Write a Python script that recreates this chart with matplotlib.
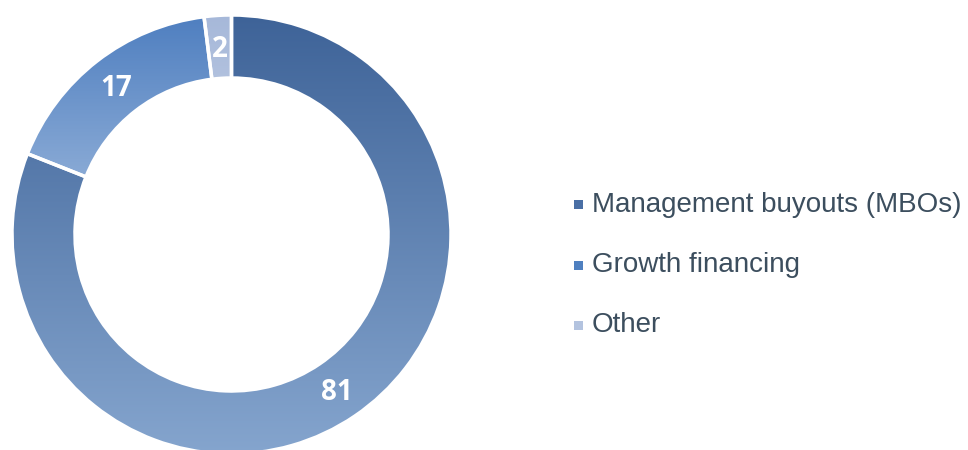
import numpy as np
import matplotlib
matplotlib.use("Agg")
import matplotlib.pyplot as plt
from matplotlib.colors import LinearSegmentedColormap
from matplotlib.patches import Rectangle

categories = ["Management buyouts (MBOs)", "Growth financing", "Other"]
values = [81, 17, 2]
grad_top = ["#3e6398", "#4f7fc0", "#a6b8d9"]
grad_bottom = ["#85a5ce", "#9eb9dd", "#cbd6ea"]
legend_colors = ["#4a6fa5", "#4f80c0", "#b3c3df"]

W, H = 968, 450
fig = plt.figure(figsize=(W / 100, H / 100), dpi=100)
cx, cy, R = 231.5, 234.5, 219.5
ax = fig.add_axes([(cx - R) / W, (H - cy - R) / H, 2 * R / W, 2 * R / H])
ax.set_xlim(-1, 1)
ax.set_ylim(-1, 1)
ax.set_aspect("equal")
ax.axis("off")

ring_w = 0.287
wedges, _ = ax.pie(values, startangle=90, counterclock=False, radius=1.0,
                   wedgeprops=dict(width=ring_w, edgecolor="white", linewidth=2.5,
                                   facecolor="none"))
for w, c0, c1 in zip(wedges, grad_top, grad_bottom):
    verts = w.get_path().transformed(w.get_patch_transform()).vertices
    x0, x1 = verts[:, 0].min(), verts[:, 0].max()
    y0, y1 = verts[:, 1].min(), verts[:, 1].max()
    cmap = LinearSegmentedColormap.from_list("g", [c1, c0])
    grad = np.linspace(0, 1, 256).reshape(-1, 1)
    im = ax.imshow(grad, cmap=cmap, origin="lower", extent=[x0, x1, y0, y1],
                   aspect="auto", zorder=1, interpolation="bilinear")
    im.set_clip_path(w)
    w.set_zorder(2)
    w.set_clip_on(False)
ax.set_xlim(-1, 1)
ax.set_ylim(-1, 1)

# data labels
total = sum(values)
start = 0.0
rmid = 1 - ring_w / 2
for v in values:
    mid = np.deg2rad((start + v / 2) / total * 360)
    ax.text(rmid * np.sin(mid), rmid * np.cos(mid) - 0.01, str(v), ha="center", va="center",
            color="white", fontsize=20, fontweight="bold", family="Open Sans", zorder=3)
    start += v

# legend
rows_y = [205, 265, 325]
for cat, col, ry in zip(categories, legend_colors, rows_y):
    fig.add_artist(Rectangle(((574) / W, (H - ry - 4.5) / H), 9 / W, 9 / H,
                             transform=fig.transFigure, facecolor=col, edgecolor="none"))
    fig.text(592 / W, (H - ry) / H, cat, ha="left", va="center", fontsize=20,
             family="Liberation Sans", color="#3c4e5e")

fig.savefig("out.png", dpi=100)
